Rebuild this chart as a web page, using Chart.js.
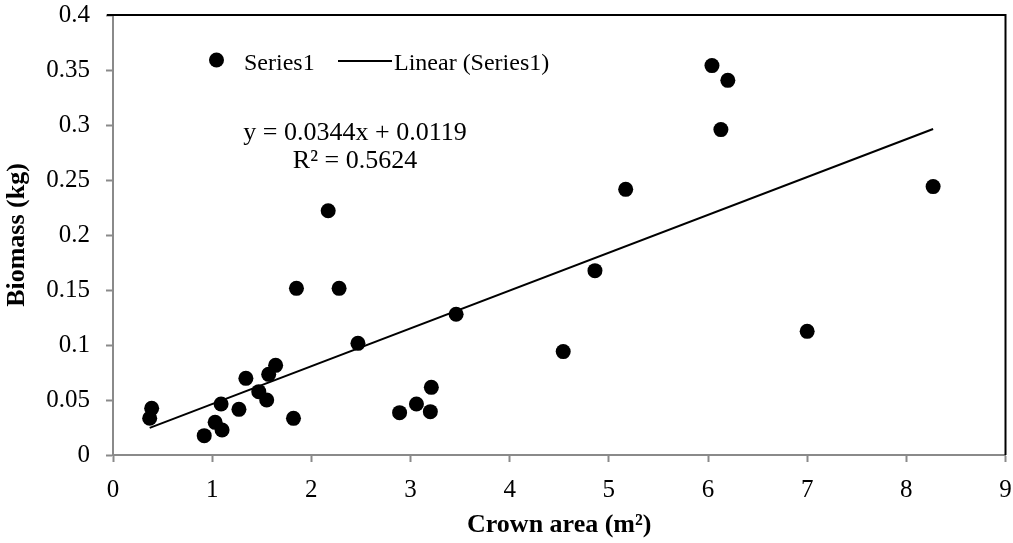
<!DOCTYPE html>
<html>
<head>
<meta charset="utf-8">
<script src="https://cdn.jsdelivr.net/npm/chart.js@4/dist/chart.umd.min.js"></script>
<style>
  html, body { margin: 0; padding: 0; background: #fff; }
  #wrap { width: 1013px; height: 543px; }
</style>
</head>
<body>
<div id="wrap"><canvas id="c" width="1013" height="543"></canvas></div>
<script>
// ---- data ----
const crownArea = [0.37, 0.39, 0.92, 1.03, 1.10, 1.09, 1.27, 1.34, 1.47, 1.55, 1.57, 1.64, 1.82, 1.85, 2.17,
                   2.28, 2.47, 2.89, 3.06, 3.20, 3.21, 3.46, 4.54, 4.86, 5.17, 6.04, 6.13, 6.20, 7.00, 8.27];
const biomass   = [0.0334, 0.0424, 0.0176, 0.0297, 0.0227, 0.0464, 0.0415, 0.0697, 0.0576, 0.0500, 0.0733, 0.0815, 0.0333, 0.1515, 0.2220,
                   0.1515, 0.1015, 0.0385, 0.0464, 0.0394, 0.0615, 0.1280, 0.0940, 0.1676, 0.2415, 0.3540, 0.2958, 0.3406, 0.1124, 0.2440];
const trendSlope = 0.0344;
const trendIntercept = 0.0119;
const equationLines = ['y = 0.0344x + 0.0119', 'R\u00B2 = 0.5624'];
const seriesName = 'Series1';
const trendName = 'Linear (Series1)';
const xTickLabels = ['0', '1', '2', '3', '4', '5', '6', '7', '8', '9'];
const yTickLabels = ['0', '0.05', '0.1', '0.15', '0.2', '0.25', '0.3', '0.35', '0.4'];
const xTitle = 'Crown area (m\u00B2)';
const yTitle = 'Biomass (kg)';

const points = crownArea.map((x, i) => ({ x: x, y: biomass[i] }));
const xMin = Math.min(...crownArea), xMax = Math.max(...crownArea);
const trend = [xMin, xMax].map(x => ({ x: x, y: trendSlope * x + trendIntercept }));

const SERIF = '"Liberation Serif", "Times New Roman", serif';
const AXIS_GRAY = '#8a8a8a';

const decorPlugin = {
  id: 'decor',
  beforeDatasetsDraw(chart) {
    const { ctx, chartArea: a } = chart;
    ctx.save();
    ctx.strokeStyle = '#000';
    ctx.lineWidth = 2;
    ctx.beginPath();
    ctx.moveTo(a.left - 6, a.top);
    ctx.lineTo(a.right, a.top);
    ctx.lineTo(a.right, a.bottom);
    ctx.stroke();
    ctx.restore();
  },
  afterDatasetsDraw(chart) {
    const { ctx } = chart;
    ctx.save();
    ctx.fillStyle = '#000';
    ctx.strokeStyle = '#000';
    // legend
    ctx.beginPath();
    ctx.arc(216.5, 60, 7.5, 0, Math.PI * 2);
    ctx.fill();
    ctx.font = '24px ' + SERIF;
    ctx.textAlign = 'left';
    ctx.textBaseline = 'alphabetic';
    ctx.fillText(chart.data.datasets[0].label, 244, 70);
    ctx.lineWidth = 2;
    ctx.beginPath();
    ctx.moveTo(338, 61);
    ctx.lineTo(392, 61);
    ctx.stroke();
    ctx.fillText(chart.data.datasets[1].label, 394, 70);
    // trendline equation
    ctx.font = '26px ' + SERIF;
    ctx.textAlign = 'center';
    ctx.fillText(equationLines[0], 355, 140);
    ctx.fillText(equationLines[1], 355, 168);
    ctx.restore();
  }
};

new Chart(document.getElementById('c'), {
  type: 'scatter',
  data: {
    datasets: [
      {
        label: seriesName,
        data: points,
        backgroundColor: '#000',
        borderColor: '#000',
        borderWidth: 0,
        pointRadius: 7.5,
        pointHoverRadius: 7.5
      },
      {
        label: trendName,
        data: trend,
        showLine: true,
        borderColor: '#000',
        borderWidth: 2,
        pointRadius: 0,
        fill: false
      }
    ]
  },
  options: {
    responsive: false,
    animation: false,
    events: [],
    layout: { padding: { top: 15, right: 7, left: 0, bottom: 0 } },
    plugins: { legend: { display: false }, tooltip: { enabled: false } },
    scales: {
      x: {
        type: 'linear',
        min: 0, max: 9,
        afterFit(s) { s.height = 88; s.paddingLeft = 0; s.paddingRight = 0; },
        border: { display: true, color: AXIS_GRAY, width: 2 },
        grid: { display: true, drawOnChartArea: false, drawTicks: true, tickLength: 7, tickColor: AXIS_GRAY, tickWidth: 2 },
        ticks: {
          stepSize: 1,
          padding: 13,
          color: '#000',
          maxRotation: 0,
          font: { family: SERIF, size: 25 },
          callback: (v, i) => xTickLabels[i]
        },
        title: {
          display: true,
          text: xTitle,
          color: '#000',
          font: { family: SERIF, size: 26, weight: 'bold' },
          padding: { top: 0, bottom: 2 }
        }
      },
      y: {
        type: 'linear',
        min: 0, max: 0.4,
        afterFit(s) { s.width = 113; s.paddingTop = 0; s.paddingBottom = 0; },
        border: { display: true, color: AXIS_GRAY, width: 2 },
        grid: { display: true, drawOnChartArea: false, drawTicks: true, tickLength: 7, tickColor: AXIS_GRAY, tickWidth: 2 },
        ticks: {
          stepSize: 0.05,
          padding: 16,
          color: '#000',
          font: { family: SERIF, size: 25 },
          callback: (v, i) => yTickLabels[i]
        },
        title: {
          display: true,
          text: yTitle,
          color: '#000',
          font: { family: SERIF, size: 26, weight: 'bold' },
          padding: { top: 2, bottom: 0 }
        }
      }
    }
  },
  plugins: [decorPlugin]
});
</script>
</body>
</html>
